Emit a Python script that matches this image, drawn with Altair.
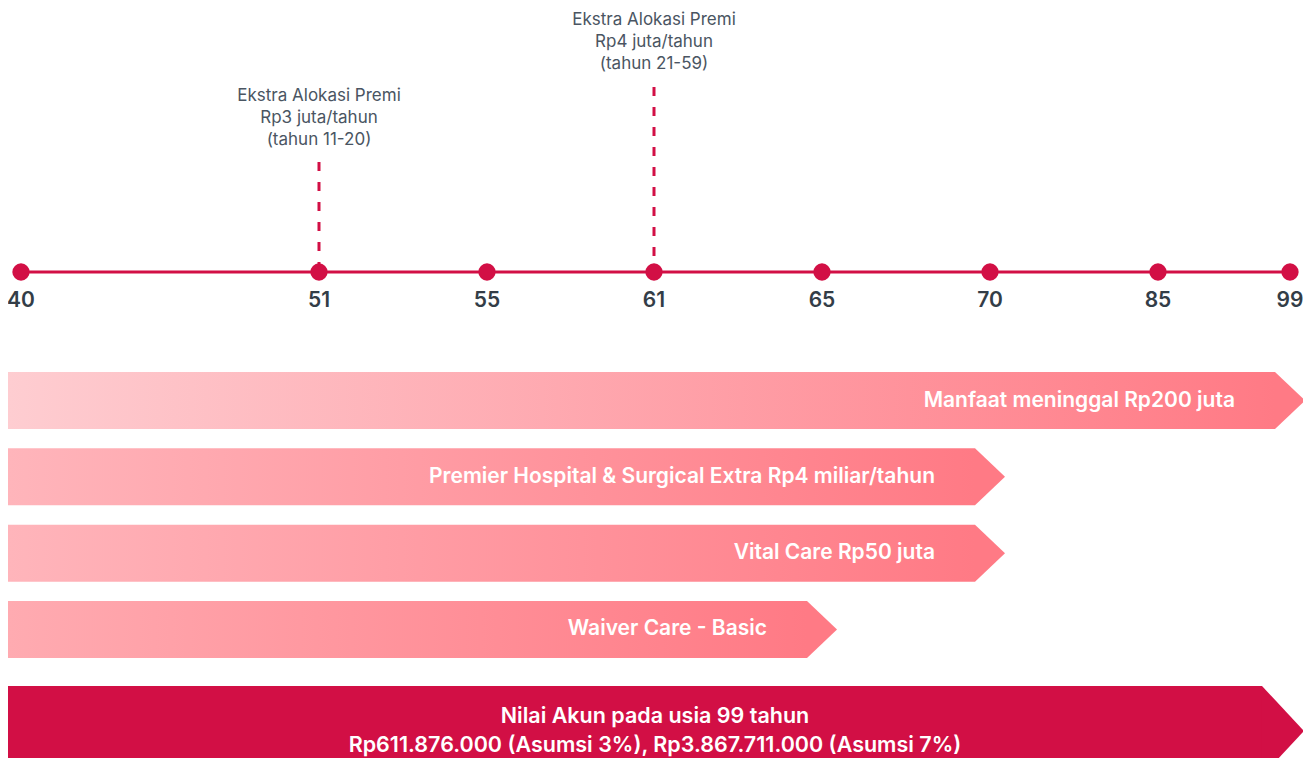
import altair as alt
import pandas as pd

# ---- data ----
ages = [40, 51, 55, 61, 65, 70, 85, 99]

annot_ages = [51, 61]
annot_texts = [
    "Ekstra Alokasi Premi\nRp3 juta/tahun\n(tahun 11-20)",
    "Ekstra Alokasi Premi\nRp4 juta/tahun\n(tahun 21-59)",
]

benefit_labels = [
    "Manfaat meninggal Rp200 juta",
    "Premier Hospital & Surgical Extra Rp4 miliar/tahun",
    "Vital Care Rp50 juta",
    "Waiver Care - Basic",
]
benefit_start = [40, 40, 40, 40]
benefit_end = [99, 70, 70, 65]

account_start = 40
account_end = 99
account_text = "Nilai Akun pada usia 99 tahun\nRp611.876.000 (Asumsi 3%), Rp3.867.711.000 (Asumsi 7%)"

# ---- styles / layout ----
FONT = "Inter"
RED = "#D20F45"
PINK_END = "#FF7A85"
grad_starts = ["#FECDD1", "#FFB5BB", "#FFB5BB", "#FFABB1"]
x_pixels = [13, 311, 479, 646, 814, 982, 1150, 1282]
LINE_Y = 264

xscale = alt.Scale(type="linear", domain=ages, range=x_pixels, zero=False, nice=False)

ages_df = pd.DataFrame({"age": ages})
line_df = pd.DataFrame({"start": [min(ages)], "end": [max(ages)]})
ben_df = pd.DataFrame({"label": benefit_labels, "start": benefit_start,
                       "end": benefit_end, "row": list(range(len(benefit_labels)))})
acc_df = pd.DataFrame({"start": [account_start], "end": [account_end], "text": [account_text]})

layers = []

# timeline line
layers.append(alt.Chart(line_df).mark_rule(color=RED, strokeWidth=3).encode(
    x=alt.X("start:Q", scale=xscale, axis=None),
    x2="end:Q",
    y=alt.value(LINE_Y),
))

# dashed annotation rules + texts
annot_tops = [154, 79]
annot_text_y = [88, 12]
for a, t, top, ty in zip(annot_ages, annot_texts, annot_tops, annot_text_y):
    d = pd.DataFrame({"age": [a], "text": [t]})
    layers.append(alt.Chart(d).mark_rule(color=RED, strokeWidth=3, strokeDash=[9, 11]).encode(
        x=alt.X("age:Q", scale=xscale, axis=None),
        y=alt.value(top), y2=alt.value(LINE_Y - 8),
    ))
    layers.append(alt.Chart(d).mark_text(
        font=FONT, fontSize=17, color="#4A5562", align="center", baseline="middle",
        lineBreak="\n", lineHeight=22,
    ).encode(
        x=alt.X("age:Q", scale=xscale, axis=None),
        y=alt.value(ty), text="text:N",
    ))

# dots
layers.append(alt.Chart(ages_df).mark_circle(color=RED, opacity=1, size=300).encode(
    x=alt.X("age:Q", scale=xscale, axis=None),
    y=alt.value(LINE_Y),
))
# age labels
layers.append(alt.Chart(ages_df).mark_text(
    font=FONT, fontSize=21, fontWeight=600, color="#333D47", baseline="middle", align="center"
).encode(
    x=alt.X("age:Q", scale=xscale, axis=None),
    y=alt.value(293), text="age:N",
))

# benefit bars
yscale = alt.Scale(domain=list(range(len(benefit_labels))), range=[364, 650],
                   paddingInner=0.253, paddingOuter=0)
arrow_path = "M-0.5263,-1L0.5263,0L-0.5263,1Z"
for i in range(len(benefit_labels)):
    grad = alt.LinearGradient(gradient="linear", x1=0, x2=1, y1=0, y2=0,
                              stops=[alt.GradientStop(color=grad_starts[i], offset=0),
                                     alt.GradientStop(color=PINK_END, offset=1)])
    base = alt.Chart(ben_df).transform_filter(alt.datum.row == i)
    layers.append(base.mark_bar(color=grad, xOffset=-13, x2Offset=-15).encode(
        x=alt.X("start:Q", scale=xscale, axis=None),
        x2="end:Q",
        y=alt.Y("row:O", scale=yscale, axis=None),
    ))
layers.append(alt.Chart(ben_df).mark_point(
    shape=arrow_path, size=57 * 57, filled=True, color=PINK_END, opacity=1, strokeWidth=0
).encode(
    x=alt.X("end:Q", scale=xscale, axis=None),
    y=alt.Y("row:O", scale=yscale, axis=None),
))
layers.append(alt.Chart(ben_df).mark_text(
    font=FONT, fontSize=21, fontWeight=600, color="white", align="right", baseline="middle", dx=-55
).encode(
    x=alt.X("end:Q", scale=xscale, axis=None),
    y=alt.Y("row:O", scale=yscale, axis=None),
    text="label:N",
))

# account value bar
layers.append(alt.Chart(acc_df).mark_bar(color=RED, xOffset=-13, x2Offset=-28).encode(
    x=alt.X("start:Q", scale=xscale, axis=None),
    x2="end:Q",
    y=alt.value(678), y2=alt.value(768),
))
layers.append(alt.Chart(acc_df).mark_point(
    shape="M-0.4667,-1L0.4667,0L-0.4667,1Z", size=90 * 90, filled=True, color=RED,
    opacity=1, strokeWidth=0, xOffset=-7
).encode(
    x=alt.X("end:Q", scale=xscale, axis=None),
    y=alt.value(723),
))
layers.append(alt.Chart(acc_df).mark_text(
    font=FONT, fontSize=21.5, fontWeight=600, color="white", align="center", baseline="middle",
    lineBreak="\n", lineHeight=29,
).encode(
    x=alt.value(647), y=alt.value(709), text="text:N",
))

chart = alt.layer(*layers).properties(
    width=1295, height=750, padding=0, autosize="none"
).configure_view(stroke=None)

chart.save("out.html", embed_options={"renderer": "svg", "actions": False})
